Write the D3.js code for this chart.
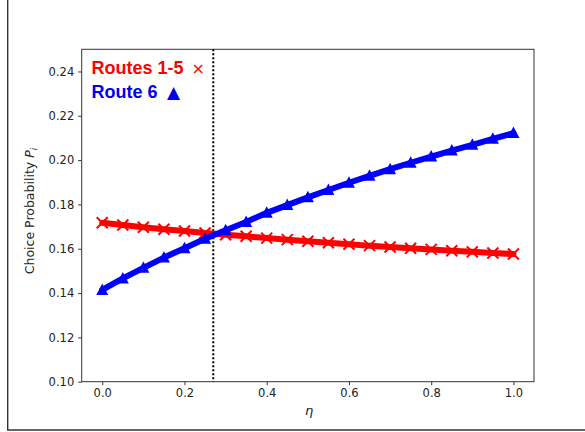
<!DOCTYPE html>
<meta charset="utf-8">
<script src="https://d3js.org/d3.v7.min.js"></script>
<style>
  body { margin: 0; background: #fff; }
  text { font-family: "DejaVu Sans", sans-serif; }
</style>
<div id="chart"></div>
<script>
// eta values and choice probabilities
const eta = [0.00, 0.05, 0.10, 0.15, 0.20, 0.25, 0.30, 0.35, 0.40, 0.45, 0.50,
             0.55, 0.60, 0.65, 0.70, 0.75, 0.80, 0.85, 0.90, 0.95, 1.00];
const routes15 = [0.1717, 0.1707, 0.1697, 0.1688, 0.1680, 0.1671, 0.1663, 0.1656, 0.1648, 0.1641, 0.1634,
                  0.1627, 0.1620, 0.1614, 0.1608, 0.1602, 0.1597, 0.1591, 0.1586, 0.1581, 0.1576];
const route6 = [0.1414, 0.1466, 0.1514, 0.1560, 0.1602, 0.1645, 0.1683, 0.1721, 0.1762, 0.1797, 0.1832,
                0.1865, 0.1898, 0.1929, 0.1959, 0.1988, 0.2016, 0.2043, 0.2069, 0.2096, 0.2122];
const crossEta = 0.27;
const xTicks = [0.0, 0.2, 0.4, 0.6, 0.8, 1.0];
const yTicks = [0.10, 0.12, 0.14, 0.16, 0.18, 0.20, 0.22, 0.24];

const W = 585, H = 432;
const plot = {left: 81.7, right: 534, top: 49.3, bottom: 381.7};

const svg = d3.select("#chart").append("svg")
  .attr("width", W).attr("height", H);

// outer frame (cropped, only left and bottom edges visible)
svg.append("line").attr("x1", 7.7).attr("x2", 7.7).attr("y1", 0).attr("y2", 430)
  .attr("stroke", "#333").attr("stroke-width", 1.4);
svg.append("line").attr("x1", 7).attr("x2", W).attr("y1", 430).attr("y2", 430)
  .attr("stroke", "#333").attr("stroke-width", 1.4);

const x = d3.scaleLinear().domain([-0.05, 1.05]).range([plot.left, plot.right]);
const y = d3.scaleLinear().domain([0.10, 0.25]).range([plot.bottom, plot.top]);

// axes
const xAxis = svg.append("g")
  .attr("transform", `translate(0,${plot.bottom})`)
  .call(d3.axisBottom(x).tickValues(xTicks).tickFormat(d3.format(".1f")).tickSize(3.5).tickPadding(4));
const yAxis = svg.append("g")
  .attr("transform", `translate(${plot.left},0)`)
  .call(d3.axisLeft(y).tickValues(yTicks).tickFormat(d3.format(".2f")).tickSize(3.5).tickPadding(4));
[xAxis, yAxis].forEach(g => {
  g.select(".domain").remove();
  g.selectAll("text").style("font-size", "11.5px").attr("fill", "#222")
    .style("font-family", "DejaVu Sans, sans-serif");
  g.selectAll("line").attr("stroke", "#333");
});

// axes box
svg.append("rect")
  .attr("x", plot.left).attr("y", plot.top)
  .attr("width", plot.right - plot.left).attr("height", plot.bottom - plot.top)
  .attr("fill", "none").attr("stroke", "#333").attr("stroke-width", 1);

// vertical dotted line at crossing
svg.append("line")
  .attr("x1", x(crossEta)).attr("x2", x(crossEta))
  .attr("y1", plot.top).attr("y2", plot.bottom)
  .attr("stroke", "#000").attr("stroke-width", 2)
  .attr("stroke-dasharray", "2,2");

const line = d3.line().x(d => x(d[0])).y(d => y(d[1]));

// Routes 1-5
const red = eta.map((e, i) => [e, routes15[i]]);
svg.append("path").datum(red)
  .attr("d", line)
  .attr("fill", "none").attr("stroke", "#ff0000")
  .attr("stroke-width", 6).attr("stroke-linecap", "round").attr("stroke-linejoin", "round");
svg.selectAll(".xm").data(red).join("path")
  .attr("class", "xm")
  .attr("transform", d => `translate(${x(d[0])},${y(d[1])})`)
  .attr("d", "M-5.5,-5.5L5.5,5.5M-5.5,5.5L5.5,-5.5")
  .attr("stroke", "#ff0000").attr("stroke-width", 2);

// Route 6
const blue = eta.map((e, i) => [e, route6[i]]);
svg.append("path").datum(blue)
  .attr("d", line)
  .attr("fill", "none").attr("stroke", "#0000ff")
  .attr("stroke-width", 6).attr("stroke-linecap", "round").attr("stroke-linejoin", "round");
svg.selectAll(".tm").data(blue).join("path")
  .attr("class", "tm")
  .attr("transform", d => `translate(${x(d[0])},${y(d[1])})`)
  .attr("d", "M0,-6.5L6,5L-6,5Z")
  .attr("fill", "#0000ff");

// legend text
const t1 = svg.append("text").attr("x", 91.5).attr("y", 74)
  .attr("fill", "#ff0000").style("font-size", "18px");
t1.append("tspan").style("font-weight", "bold").style("font-family", "Liberation Sans, Arial, sans-serif").text("Routes 1-5");
t1.append("tspan").attr("x", 191.5).style("font-family", "DejaVu Sans, sans-serif").style("font-size", "16px").text("×");
const t2 = svg.append("text").attr("x", 91.5).attr("y", 98.3)
  .attr("fill", "#0000ee").style("font-size", "18px");
t2.append("tspan").style("font-weight", "bold").style("font-family", "Liberation Sans, Arial, sans-serif").text("Route 6");
t2.append("tspan").attr("x", 167).style("font-family", "DejaVu Sans, sans-serif").style("font-size", "17px").text("▲");

// axis labels
svg.append("text")
  .attr("x", 309).attr("y", 415)
  .attr("text-anchor", "middle").style("font-size", "13px")
  .style("font-style", "italic").attr("fill", "#222").text("η");
const yl = svg.append("text")
  .attr("transform", `translate(33.5,211) rotate(-90)`)
  .attr("text-anchor", "middle").style("font-size", "12.5px").attr("fill", "#222");
yl.append("tspan").text("Choice Probability ");
yl.append("tspan").style("font-style", "italic").text("P");
yl.append("tspan").style("font-style", "italic").style("font-size", "9px").attr("dy", 3).text("i");
</script>
